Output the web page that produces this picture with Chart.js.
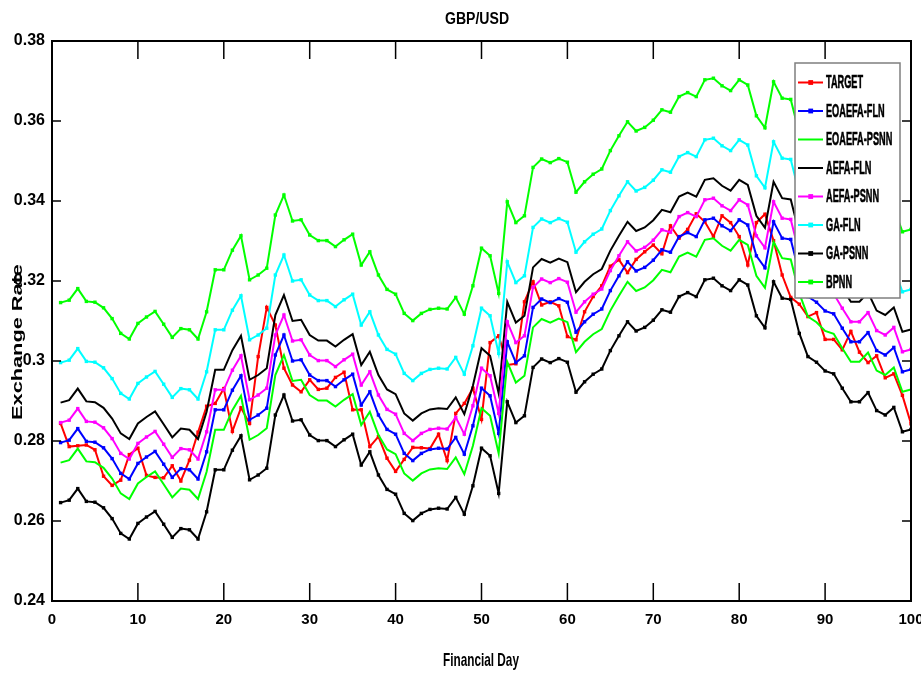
<!DOCTYPE html>
<html>
<head>
<meta charset="utf-8">
<script src="https://cdn.jsdelivr.net/npm/chart.js@4/dist/chart.umd.min.js"></script>
<style>
  body { margin: 0; background: #fff; }
  #wrap { width: 921px; height: 676px; }
</style>
</head>
<body>
<div id="wrap"><canvas id="fxChart" width="921" height="676"></canvas></div>
<script>

// Financial day (x) and the series
let days = [1,2,3,4,5,6,7,8,9,10,11,12,13,14,15,16,17,18,19,20,
  21,22,23,24,25,26,27,28,29,30,31,32,33,34,35,36,37,38,39,40,
  41,42,43,44,45,46,47,48,49,50,51,52,53,54,55,56,57,58,59,60,
  61,62,63,64,65,66,67,68,69,70,71,72,73,74,75,76,77,78,79,80,
  81,82,83,84,85,86,87,88,89,90,91,92,93,94,95,96,97,98,99,100];

let yTicks = [0.24, 0.26, 0.28, 0.3, 0.32, 0.34, 0.36, 0.38];

let target = [0.2844,0.2786,0.2788,0.2790,0.2778,0.2712,0.2689,0.2702,0.2766,0.2782,
  0.2714,0.2709,0.2708,0.2738,0.2700,0.2752,0.2822,0.2887,0.2894,0.2931,
  0.2824,0.2883,0.2844,0.3011,0.3134,0.3090,0.2982,0.2940,0.2923,0.2953,
  0.2929,0.2932,0.2959,0.2972,0.2878,0.2878,0.2786,0.2811,0.2757,0.2724,
  0.2754,0.2784,0.2783,0.2781,0.2817,0.2751,0.2869,0.2894,0.2932,0.2854,
  0.3046,0.3063,0.2990,0.2993,0.3148,0.3198,0.3140,0.3148,0.3138,0.3061,
  0.3053,0.3123,0.3161,0.3188,0.3237,0.3253,0.3221,0.3254,0.3273,0.3290,
  0.3268,0.3338,0.3307,0.3329,0.3368,0.3348,0.3311,0.3363,0.3346,0.3311,
  0.3240,0.3346,0.3367,0.3301,0.3215,0.3159,0.3142,0.3111,0.3121,0.3054,
  0.3054,0.3028,0.3074,0.3022,0.2996,0.3013,0.2958,0.2968,0.2914,0.2843];

let eoaefaFln = [0.2796,0.2802,0.2831,0.2799,0.2797,0.2783,0.2756,0.2719,0.2705,0.2744,
  0.2760,0.2774,0.2742,0.2709,0.2731,0.2728,0.2705,0.2773,0.2878,0.2878,
  0.2927,0.2963,0.2853,0.2865,0.2882,0.3015,0.3065,0.3000,0.3003,0.2965,
  0.2951,0.2951,0.2936,0.2953,0.2967,0.2890,0.2923,0.2865,0.2829,0.2817,
  0.2769,0.2751,0.2769,0.2779,0.2782,0.2780,0.2809,0.2767,0.2838,0.2932,
  0.2913,0.2819,0.3048,0.2996,0.3013,0.3134,0.3155,0.3146,0.3156,0.3147,
  0.3072,0.3098,0.3117,0.3130,0.3176,0.3213,0.3248,0.3225,0.3234,0.3252,
  0.3278,0.3272,0.3311,0.3321,0.3311,0.3353,0.3357,0.3338,0.3326,0.3353,
  0.3340,0.3263,0.3233,0.3348,0.3307,0.3304,0.3219,0.3161,0.3147,0.3125,
  0.3118,0.3082,0.3048,0.3048,0.3071,0.3026,0.3015,0.3034,0.2973,0.2979];

let eoaefaPsnn = [0.2746,0.2752,0.2781,0.2749,0.2747,0.2733,0.2706,0.2669,0.2655,0.2694,
  0.2710,0.2724,0.2692,0.2659,0.2681,0.2678,0.2655,0.2723,0.2828,0.2828,
  0.2877,0.2913,0.2803,0.2815,0.2832,0.2965,0.3015,0.2950,0.2953,0.2915,
  0.2901,0.2901,0.2886,0.2903,0.2917,0.2840,0.2873,0.2815,0.2779,0.2767,
  0.2719,0.2701,0.2719,0.2729,0.2732,0.2730,0.2759,0.2717,0.2788,0.2882,
  0.2863,0.2769,0.2998,0.2946,0.2963,0.3084,0.3105,0.3096,0.3106,0.3097,
  0.3022,0.3048,0.3067,0.3080,0.3126,0.3163,0.3198,0.3175,0.3184,0.3202,
  0.3228,0.3222,0.3261,0.3271,0.3261,0.3303,0.3307,0.3288,0.3276,0.3303,
  0.3290,0.3213,0.3183,0.3298,0.3257,0.3254,0.3169,0.3111,0.3097,0.3075,
  0.3068,0.3032,0.2998,0.2998,0.3021,0.2976,0.2965,0.2984,0.2923,0.2929];

let aefaFln = [0.2896,0.2902,0.2931,0.2899,0.2897,0.2883,0.2856,0.2819,0.2805,0.2844,
  0.2860,0.2874,0.2842,0.2809,0.2831,0.2828,0.2805,0.2873,0.2978,0.2978,
  0.3027,0.3063,0.2953,0.2965,0.2982,0.3115,0.3165,0.3100,0.3103,0.3065,
  0.3051,0.3051,0.3036,0.3053,0.3067,0.2990,0.3023,0.2965,0.2929,0.2917,
  0.2869,0.2851,0.2869,0.2879,0.2882,0.2880,0.2909,0.2867,0.2938,0.3032,
  0.3013,0.2919,0.3148,0.3096,0.3113,0.3234,0.3255,0.3246,0.3256,0.3247,
  0.3172,0.3198,0.3217,0.3230,0.3276,0.3313,0.3348,0.3325,0.3334,0.3352,
  0.3378,0.3372,0.3411,0.3421,0.3411,0.3453,0.3457,0.3438,0.3426,0.3453,
  0.3440,0.3363,0.3333,0.3448,0.3407,0.3404,0.3319,0.3261,0.3247,0.3225,
  0.3218,0.3182,0.3148,0.3148,0.3171,0.3126,0.3115,0.3134,0.3073,0.3079];

let aefaPsnn = [0.2846,0.2852,0.2881,0.2849,0.2847,0.2833,0.2806,0.2769,0.2755,0.2794,
  0.2810,0.2824,0.2792,0.2759,0.2781,0.2778,0.2755,0.2823,0.2928,0.2928,
  0.2977,0.3013,0.2903,0.2915,0.2932,0.3065,0.3115,0.3050,0.3053,0.3015,
  0.3001,0.3001,0.2986,0.3003,0.3017,0.2940,0.2973,0.2915,0.2879,0.2867,
  0.2819,0.2801,0.2819,0.2829,0.2832,0.2830,0.2859,0.2817,0.2888,0.2982,
  0.2963,0.2869,0.3098,0.3046,0.3063,0.3184,0.3205,0.3196,0.3206,0.3197,
  0.3122,0.3148,0.3167,0.3180,0.3226,0.3263,0.3298,0.3275,0.3284,0.3302,
  0.3328,0.3322,0.3361,0.3371,0.3361,0.3403,0.3407,0.3388,0.3376,0.3403,
  0.3390,0.3313,0.3283,0.3398,0.3357,0.3354,0.3269,0.3211,0.3197,0.3175,
  0.3168,0.3132,0.3098,0.3098,0.3121,0.3076,0.3065,0.3084,0.3023,0.3029];

let gaFln = [0.2996,0.3002,0.3031,0.2999,0.2997,0.2983,0.2956,0.2919,0.2905,0.2944,
  0.2960,0.2974,0.2942,0.2909,0.2931,0.2928,0.2905,0.2973,0.3078,0.3078,
  0.3127,0.3163,0.3053,0.3065,0.3082,0.3215,0.3265,0.3200,0.3203,0.3165,
  0.3151,0.3151,0.3136,0.3153,0.3167,0.3090,0.3123,0.3065,0.3029,0.3017,
  0.2969,0.2951,0.2969,0.2979,0.2982,0.2980,0.3009,0.2967,0.3038,0.3132,
  0.3113,0.3019,0.3248,0.3196,0.3213,0.3334,0.3355,0.3346,0.3356,0.3347,
  0.3272,0.3298,0.3317,0.3330,0.3376,0.3413,0.3448,0.3425,0.3434,0.3452,
  0.3478,0.3472,0.3511,0.3521,0.3511,0.3553,0.3557,0.3538,0.3526,0.3553,
  0.3540,0.3463,0.3433,0.3548,0.3507,0.3504,0.3419,0.3361,0.3347,0.3325,
  0.3318,0.3282,0.3248,0.3248,0.3271,0.3226,0.3215,0.3234,0.3173,0.3179];

let gaPsnn = [0.2646,0.2652,0.2681,0.2649,0.2647,0.2633,0.2606,0.2569,0.2555,0.2594,
  0.2610,0.2624,0.2592,0.2559,0.2581,0.2578,0.2555,0.2623,0.2728,0.2728,
  0.2777,0.2813,0.2703,0.2715,0.2732,0.2865,0.2915,0.2850,0.2853,0.2815,
  0.2801,0.2801,0.2786,0.2803,0.2817,0.2740,0.2773,0.2715,0.2679,0.2667,
  0.2619,0.2601,0.2619,0.2629,0.2632,0.2630,0.2659,0.2617,0.2688,0.2782,
  0.2763,0.2669,0.2898,0.2846,0.2863,0.2984,0.3005,0.2996,0.3006,0.2997,
  0.2922,0.2948,0.2967,0.2980,0.3026,0.3063,0.3098,0.3075,0.3084,0.3102,
  0.3128,0.3122,0.3161,0.3171,0.3161,0.3203,0.3207,0.3188,0.3176,0.3203,
  0.3190,0.3113,0.3083,0.3198,0.3157,0.3154,0.3069,0.3011,0.2997,0.2975,
  0.2968,0.2932,0.2898,0.2898,0.2921,0.2876,0.2865,0.2884,0.2823,0.2829];

let bpnn = [0.3146,0.3152,0.3181,0.3149,0.3147,0.3133,0.3106,0.3069,0.3055,0.3094,
  0.3110,0.3124,0.3092,0.3059,0.3081,0.3078,0.3055,0.3123,0.3228,0.3228,
  0.3277,0.3313,0.3203,0.3215,0.3232,0.3365,0.3415,0.3350,0.3353,0.3315,
  0.3301,0.3301,0.3286,0.3303,0.3317,0.3240,0.3273,0.3215,0.3179,0.3167,
  0.3119,0.3101,0.3119,0.3129,0.3132,0.3130,0.3159,0.3117,0.3188,0.3282,
  0.3263,0.3169,0.3398,0.3346,0.3363,0.3484,0.3505,0.3496,0.3506,0.3497,
  0.3422,0.3448,0.3467,0.3480,0.3526,0.3563,0.3598,0.3575,0.3584,0.3602,
  0.3628,0.3622,0.3661,0.3671,0.3661,0.3703,0.3707,0.3688,0.3676,0.3703,
  0.3690,0.3613,0.3583,0.3698,0.3657,0.3654,0.3569,0.3511,0.3497,0.3475,
  0.3468,0.3432,0.3398,0.3398,0.3421,0.3376,0.3365,0.3384,0.3323,0.3329];

let seriesNames = ["TARGET", "EOAEFA-FLN", "EOAEFA-PSNN", "AEFA-FLN", "AEFA-PSNN", "GA-FLN", "GA-PSNN", "BPNN"];
let seriesValues = [target, eoaefaFln, eoaefaPsnn, aefaFln, aefaPsnn, gaFln, gaPsnn, bpnn];
let seriesColors = ["#ff0000", "#0000ff", "#00ff00", "#000000", "#ff00ff", "#00ffff", "#000000", "#00ff00"];
let seriesMarkers = [true, true, false, false, true, true, true, true];

const FONT = "'Liberation Sans', Arial, sans-serif";

// text squeezed sideways (the figure was saved with a narrow aspect),
// with an optional thin outline to make it look heavier
function squeezeText(ctx, text, x, y, sx, sy, heavy) {
    ctx.save();
    ctx.translate(x, y);
    ctx.scale(sx, sy);
    ctx.fillText(text, 0, 0);
    if (heavy) {
        ctx.lineWidth = heavy;
        ctx.strokeStyle = ctx.fillStyle;
        ctx.strokeText(text, 0, 0);
    }
    ctx.restore();
}

let datasets = seriesValues.map(function (vals, k) {
    return {
        label: seriesNames[k],
        data: days.map((d, i) => ({ x: d, y: vals[i] })),
        borderColor: seriesColors[k],
        backgroundColor: seriesColors[k],
        borderWidth: 2,
        pointStyle: "rect",
        pointRadius: seriesMarkers[k] ? 2.4 : 0,
        pointBorderWidth: 0,
        tension: 0,
        order: seriesNames.length - k   // last series on top, like MATLAB
    };
});

// box round the axes with inward ticks, title and axis labels
const axesFrame = {
    id: "axesFrame",
    afterDatasetsDraw(chart) {
        let ctx = chart.ctx;
        let a = chart.chartArea;
        let xs = chart.scales.x;
        let ys = chart.scales.y;

        ctx.save();
        ctx.strokeStyle = "#000";
        ctx.lineWidth = 2;
        ctx.strokeRect(a.left, a.top, a.right - a.left, a.bottom - a.top);

        ctx.lineWidth = 1.5;
        ctx.beginPath();
        for (let v = 0; v <= 100; v += 10) {
            let px = xs.getPixelForValue(v);
            ctx.moveTo(px, a.bottom); ctx.lineTo(px, a.bottom - 18);
            ctx.moveTo(px, a.top); ctx.lineTo(px, a.top + 18);
        }
        yTicks.forEach(function (v) {
            let py = ys.getPixelForValue(v);
            ctx.moveTo(a.left, py); ctx.lineTo(a.left + 9, py);
            ctx.moveTo(a.right, py); ctx.lineTo(a.right - 9, py);
        });
        ctx.stroke();

        ctx.fillStyle = "#000";
        ctx.textAlign = "center";
        ctx.textBaseline = "middle";

        ctx.font = "bold 16px " + FONT;
        squeezeText(ctx, "GBP/USD", 477, 20, 0.88, 1);

        ctx.font = "bold 19px " + FONT;
        squeezeText(ctx, "Financial Day", 481, 661, 0.62, 1);

        ctx.save();
        ctx.translate(18, 342);
        ctx.rotate(-Math.PI / 2);
        ctx.font = "bold 15px " + FONT;
        squeezeText(ctx, "Exchange Rate", 0, 0, 1.45, 0.95);
        ctx.restore();

        ctx.restore();
    }
};

// legend box sitting inside the axes, top right
const boxLegend = {
    id: "boxLegend",
    afterDraw(chart) {
        let ctx = chart.ctx;
        let left = 795, top = 63, w = 105, h = 235;

        ctx.save();
        ctx.fillStyle = "#fff";
        ctx.fillRect(left, top, w, h);
        ctx.strokeStyle = "#7f7f7f";
        ctx.lineWidth = 1.5;
        ctx.strokeRect(left, top, w, h);

        ctx.textAlign = "left";
        ctx.textBaseline = "middle";
        ctx.font = "bold 18px " + FONT;

        seriesNames.forEach(function (name, k) {
            let y = top + 19.5 + k * 28.5;
            ctx.strokeStyle = seriesColors[k];
            ctx.lineWidth = 2;
            ctx.beginPath();
            ctx.moveTo(left + 3, y);
            ctx.lineTo(left + 28, y);
            ctx.stroke();
            if (seriesMarkers[k]) {
                ctx.fillStyle = seriesColors[k];
                ctx.fillRect(left + 13.3, y - 2.4, 4.8, 4.8);
            }
            ctx.fillStyle = "#000";
            squeezeText(ctx, name, left + 31, y + 1, 0.51, 1, 0.6);
        });
        ctx.restore();
    }
};

let ctx1 = document.getElementById("fxChart").getContext("2d");

new Chart(ctx1, {
    type: "line",
    data: { datasets: datasets },
    options: {
        responsive: false,
        animation: false,
        devicePixelRatio: 1,
        layout: { padding: { top: 41, right: 10, left: 0, bottom: 0 } },
        plugins: {
            legend: { display: false },
            title: { display: false },
            tooltip: { enabled: false }
        },
        scales: {
            x: {
                type: "linear",
                min: 0,
                max: 100,
                grid: { display: false, drawTicks: false },
                border: { display: false },
                ticks: {
                    stepSize: 10,
                    padding: 10,
                    color: "#000",
                    maxRotation: 0,
                    font: { family: FONT, size: 15, weight: "bold" }
                },
                afterFit(scale) {
                    scale.height = 75;
                    scale.paddingLeft = 0;
                    scale.paddingRight = 0;
                }
            },
            y: {
                min: 0.24,
                max: 0.38,
                grid: { display: false, drawTicks: false },
                border: { display: false },
                afterBuildTicks(scale) {
                    scale.ticks = yTicks.map(v => ({ value: v }));
                },
                ticks: {
                    padding: 7,
                    color: "#000",
                    font: { family: FONT, size: 16, weight: "bold" },
                    callback: v => String(+v.toFixed(2))
                },
                afterFit(scale) {
                    scale.width = 52;
                    scale.paddingTop = 0;
                    scale.paddingBottom = 0;
                }
            }
        }
    },
    plugins: [axesFrame, boxLegend]
});

</script>
</body>
</html>
